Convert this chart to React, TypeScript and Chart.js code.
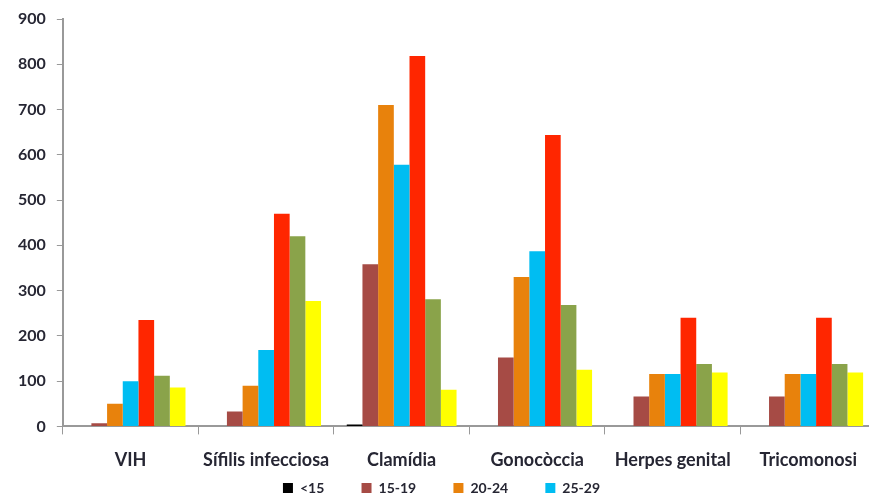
import React, { useEffect, useRef } from "react";
import { Chart, registerables } from "chart.js";

Chart.register(...registerables);

const categories = ["VIH", "Sífilis infecciosa", "Clamídia", "Gonocòccia", "Herpes genital", "Tricomonosi"];
const seriesLabels = ["<15", "15-19", "20-24", "25-29", "30-34", "35-39", ">40"];
const seriesColors = ["#000000", "#A64B45", "#E8820C", "#00BDF2", "#FF2600", "#8AA34A", "#FFFF00"];
const lt15 = [0, 0, 4, 0, 0, 0];
const s15_19 = [7, 33, 358, 152, 66, 66];
const s20_24 = [50, 90, 710, 330, 116, 116];
const s25_29 = [100, 169, 578, 387, 116, 116];
const s30_34 = [235, 470, 818, 644, 240, 240];
const s35_39 = [112, 420, 281, 268, 138, 138];
const s40 = [86, 277, 81, 125, 119, 119];
const yTicks = [0, 100, 200, 300, 400, 500, 600, 700, 800, 900];
const seriesValues = [lt15, s15_19, s20_24, s25_29, s30_34, s35_39, s40];
const legendVisible = 4;

export default function App() {
  const ref = useRef<HTMLCanvasElement | null>(null);
  useEffect(() => {
    document.body.style.margin = "0";
    const family = "Lato, 'Open Sans', sans-serif";
    const chart = new Chart(ref.current!, {
      type: "bar",
      data: {
        labels: categories,
        datasets: seriesValues.map((v, i) => ({
          label: seriesLabels[i],
          data: v,
          backgroundColor: seriesColors[i],
          borderWidth: 0,
          categoryPercentage: 0.81,
          barPercentage: 1,
        })),
      },
      options: {
        animation: false,
        responsive: true,
        maintainAspectRatio: false,
        layout: { padding: { top: 0, left: 7, right: 0, bottom: -6 } },
        plugins: {
          tooltip: { enabled: false },
          legend: {
            position: "bottom",
            labels: {
              boxWidth: 10,
              boxHeight: 10,
              padding: 10,
              color: "#262633",
              font: { family, size: 14, weight: "bold" },
              generateLabels: (chart) =>
                Chart.defaults.plugins.legend.labels
                  .generateLabels(chart)
                  .filter((it) => (it.datasetIndex ?? 0) < legendVisible)
                  .map((it, idx) => ({
                    ...it,
                    text: idx < legendVisible - 1 ? it.text + "        " : it.text,
                  })),
            },
          },
        },
        scales: {
          x: {
            afterFit: (scale) => {
              scale.height = scale.height - 15;
            },
            grid: {
              offset: true,
              drawOnChartArea: false,
              drawTicks: true,
              tickLength: 8,
              color: "#999",
            },
            border: { color: "#999", width: 2 },
            ticks: { color: "#262633", font: { family, size: 18, weight: "bold" }, padding: 15 },
          },
          y: {
            min: 0,
            max: 900,
            afterBuildTicks: (axis) => {
              axis.ticks = yTicks.map((v) => ({ value: v }));
            },
            grid: { drawOnChartArea: false, drawTicks: true, tickLength: 6, color: "#999" },
            border: { color: "#999", width: 2 },
            ticks: {
              color: "#262633",
              font: { family, size: 16, weight: "bold", lineHeight: 1 },
              padding: 11,
            },
          },
        },
      },
    });
    return () => chart.destroy();
  }, []);
  return (
    <div style={{ width: 869, height: 499, overflow: "hidden", position: "relative" }}>
      <div style={{ width: 876, height: 499, position: "absolute", left: 0, top: 0 }}>
        <canvas ref={ref} />
      </div>
    </div>
  );
}
